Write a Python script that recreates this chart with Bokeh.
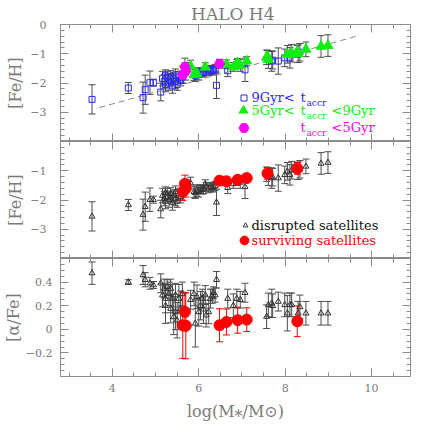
import numpy as np
from bokeh.plotting import figure
from bokeh.models import (ColumnDataSource, Whisker, TeeHead, Range1d, LinearAxis,
                          FixedTicker, Label, Legend, LegendItem, CustomLabelingPolicy)
from bokeh.layouts import column
from bokeh.embed import file_html
from bokeh.resources import INLINE

# ---------------- data ----------------
# disrupted satellites: log stellar mass, [Fe/H] (+err), [alpha/Fe] (+err), accretion-time class
d_logm = [3.53, 4.37, 4.71, 4.76, 4.87, 4.95, 5.12, 5.16, 5.20, 5.23, 5.27, 5.31, 5.35, 5.39,
          5.42, 5.46, 5.50, 5.54, 5.58, 5.23, 5.35, 5.46, 5.62, 5.89, 5.81, 5.92, 5.96, 6.00,
          6.04, 6.08, 6.11, 6.15, 6.17, 6.23, 6.27, 6.31, 6.34, 6.38, 6.41, 6.67, 6.80, 6.88,
          6.96, 7.07, 7.57, 7.61, 7.69, 7.71, 7.84, 7.99, 8.05, 8.11, 8.15, 8.30, 8.34, 8.48,
          8.83, 8.99]
d_feh = [-2.56, -2.17, -2.50, -2.23, -1.99, -1.99, -2.31, -1.85, -1.95, -2.05, -1.80, -2.00,
         -1.90, -2.10, -1.85, -1.95, -2.05, -1.80, -1.90, -1.75, -1.78, -1.72, -1.80, -1.72,
         -1.42, -1.75, -1.68, -1.70, -1.63, -1.65, -1.63, -1.46, -1.55, -1.60, -1.55, -1.58,
         -1.55, -1.52, -2.08, -1.58, -1.45, -1.35, -1.40, -1.55, -1.12, -1.20, -1.25, -1.22,
         -1.25, -1.14, -1.02, -1.14, -0.98, -1.00, -0.95, -0.85, -0.75, -0.72]
d_feh_err = [0.50, 0.19, 0.53, 0.50, 0.40, 0.12, 0.30, 0.25, 0.25, 0.25, 0.20, 0.25, 0.20, 0.25,
             0.20, 0.25, 0.20, 0.20, 0.20, 0.20, 0.20, 0.20, 0.20, 0.20, 0.20, 0.20, 0.20, 0.20,
             0.15, 0.15, 0.15, 0.15, 0.15, 0.15, 0.15, 0.15, 0.15, 0.15, 0.45, 0.20, 0.15, 0.15,
             0.20, 0.40, 0.25, 0.30, 0.35, 0.30, 0.45, 0.30, 0.30, 0.35, 0.30, 0.30, 0.30, 0.25,
             0.37, 0.37]
d_afe = [0.476, 0.40, 0.46, 0.42, 0.39, 0.375, 0.39, 0.29, 0.345, 0.26, 0.36, 0.30, 0.345, 0.26,
         0.105, 0.29, 0.077, 0.26, 0.175, 0.20, 0.175, 0.147, 0.30, 0.30, 0.25, 0.05, 0.275,
         0.147, 0.20, 0.26, 0.17, 0.29, 0.12, 0.147, 0.26, 0.28, 0.31, 0.29, 0.42, 0.26, 0.20,
         0.26, 0.25, 0.31, 0.107, 0.207, 0.22, 0.20, 0.235, 0.207, 0.136, 0.207, 0.207, 0.136,
         0.19, 0.136, 0.136, 0.136]
d_afe_err = [0.095, 0.02, 0.08, 0.06, 0.05, 0.03, 0.08, 0.10, 0.08, 0.12, 0.06, 0.10, 0.08, 0.12,
             0.15, 0.10, 0.15, 0.12, 0.15, 0.15, 0.12, 0.15, 0.10, 0.10, 0.08, 0.20, 0.10, 0.12,
             0.12, 0.08, 0.12, 0.08, 0.10, 0.10, 0.08, 0.06, 0.05, 0.06, 0.07, 0.08, 0.10, 0.08,
             0.07, 0.08, 0.10, 0.10, 0.12, 0.10, 0.08, 0.10, 0.15, 0.10, 0.10, 0.10, 0.10, 0.10,
             0.10, 0.10]
d_tacc = ["early"] * 23 + ["mid", "mid", "early", "mid", "early", "early", "early", "early",
          "mid", "early", "early", "early", "early", "early", "early", "early", "early", "mid",
          "mid", "mid", "early", "mid", "mid", "early", "early", "early", "early", "mid",
          "early", "mid", "mid", "early", "mid", "mid", "mid"]

# surviving satellites
s_logm = [5.63, 5.68, 5.70, 6.48, 6.64, 6.90, 7.11, 7.59, 8.28]
s_feh = [-1.72, -1.45, -1.60, -1.34, -1.36, -1.31, -1.25, -1.09, -0.92]
s_feh_err = [0.30, 0.30, 0.30, 0.15, 0.15, 0.15, 0.15, 0.20, 0.20]
s_afe = [0.034, 0.147, 0.030, 0.034, 0.062, 0.077, 0.082, np.nan, 0.068]
s_afe_err = [0.28, 0.16, 0.28, 0.14, 0.11, 0.11, 0.10, np.nan, 0.13]
s_tacc = ["late", "late", "late", "late", "mid", "mid", "mid", "mid", "mid"]

# mass-metallicity relation (dashed)
fit_logm = [3.7, 9.7]
fit_slope = 0.41
fit_intercept = -4.357

x_ticks = [4, 6, 8, 10]
x_ticklabels = ["4", "6", "8", "10"]
feh_ticks_top = [0, -1, -2, -3]
feh_ticks_mid = [-1, -2, -3]
afe_ticks = [-0.2, 0, 0.2, 0.4]

# ---------------- style ----------------
FONT = "DejaVu Serif"
AXC = "#8c8c8c"
TXC = "#7a7a7a"
ERRC = "#4d4d4d"
BLUE = "#2a2aff"
GREEN = "#10ee10"
MAG = "#ff00ff"
RED = "#ff0000"
FW = 350


def label_text(v):
    s = ("%g" % v)
    return s.replace("-", "\u2212")


def style_axis(ax, labels, tick_labels=None, standoff=8, label=None, lab_standoff=4):
    ax.axis_line_color = AXC
    ax.major_tick_line_color = AXC
    ax.minor_tick_line_color = AXC
    ax.major_tick_in = 8
    ax.major_tick_out = 0
    ax.minor_tick_in = 4
    ax.minor_tick_out = 0
    if labels:
        ax.major_label_text_font = FONT
        ax.major_label_text_font_size = "11px"
        ax.major_label_text_color = TXC
        ax.major_label_standoff = standoff
        if tick_labels is not None:
            ax.major_label_overrides = tick_labels
    else:
        ax.major_label_policy = CustomLabelingPolicy(code="return []")
        ax.major_label_text_font_size = "0px"
        ax.major_label_standoff = 0
    if label is not None:
        ax.axis_label = label
        ax.axis_label_text_font = FONT
        ax.axis_label_text_font_style = "normal"
        ax.axis_label_text_font_size = "16px"
        ax.axis_label_text_color = TXC
        ax.axis_label_standoff = lab_standoff


def make_panel(yr, yticks, yminor, fh, top, bottom, ylabel, ystand, ylabstand, xlabel=None):
    p = figure(x_range=Range1d(2.8, 10.9), y_range=Range1d(*yr), frame_width=FW, frame_height=fh,
               output_backend="svg", toolbar_location=None,
               x_axis_location=None, y_axis_location=None,
               min_border=0, min_border_left=54, min_border_right=16,
               min_border_top=top, min_border_bottom=bottom)
    p.xgrid.visible = False
    p.ygrid.visible = False
    p.outline_line_color = AXC
    p.background_fill_color = "white"
    p.border_fill_color = "white"
    xmin = list(np.arange(3.0, 11.0, 0.5))
    for side in ["below", "above"]:
        ax = LinearAxis(ticker=FixedTicker(ticks=x_ticks, minor_ticks=xmin))
        if side == "below" and xlabel is not None:
            style_axis(ax, True, dict(zip(x_ticks, x_ticklabels)), 7, xlabel, 7)
        else:
            style_axis(ax, False)
        p.add_layout(ax, side)
    for side in ["left", "right"]:
        ax = LinearAxis(ticker=FixedTicker(ticks=yticks, minor_ticks=yminor))
        if side == "left":
            style_axis(ax, True, {t: label_text(t) for t in yticks}, ystand, ylabel, ylabstand)
        else:
            style_axis(ax, False)
        p.add_layout(ax, side)
    return p


def whisk(p, x, y, e, color):
    x = np.asarray(x, float); y = np.asarray(y, float); e = np.asarray(e, float)
    src = ColumnDataSource(dict(base=x, upper=y + e, lower=y - e))
    w = Whisker(base="base", upper="upper", lower="lower", source=src, dimension="height",
                line_color=color, line_width=1,
                upper_head=TeeHead(size=7, line_color=color, line_width=1),
                lower_head=TeeHead(size=7, line_color=color, line_width=1))
    p.add_layout(w)


def add_label(p, x, y, text, color, size="13px", align="left"):
    p.add_layout(Label(x=x, y=y, x_units="screen", y_units="screen", text=text,
                       text_color=color, text_font=FONT, text_font_size=size,
                       text_align=align, text_baseline="middle"))


def key(p, r, cx, cy, msize):
    g = msize / 0.4
    lg = Legend(items=[LegendItem(label=" ", renderers=[r])], location=(cx - g / 2, cy - g / 2),
                glyph_width=int(round(g)), glyph_height=int(round(g)), padding=0, spacing=0,
                margin=0, label_standoff=0, label_text_font_size="1px",
                background_fill_alpha=0, border_line_alpha=0)
    p.add_layout(lg)


feh_minor = list(np.arange(-4.0, 0.01, 0.2))
afe_minor = list(np.arange(-0.4, 0.61, 0.05))

# ---------------- top panel ----------------
p1 = make_panel((-4, 0), feh_ticks_top, feh_minor, 117, 24, 0, "[Fe/H]", 14, 2)
p1.title.text = "HALO  H4"
p1.title.align = "center"
p1.title.text_font = FONT
p1.title.text_font_size = "17px"
p1.title.text_font_style = "normal"
p1.title.text_color = TXC
p1.title.standoff = 2
p1.title.offset = 4

all_logm = d_logm + s_logm
all_feh = d_feh + s_feh
all_err = d_feh_err + s_feh_err
all_tacc = d_tacc + s_tacc
whisk(p1, all_logm, all_feh, all_err, ERRC)
fx = np.array(fit_logm)
p1.line(fx, fit_intercept + fit_slope * fx, line_color="#8a8a8a", line_width=1, line_dash="6 4")

grp = {}
for g in ["early", "mid", "late"]:
    idx = [i for i, t in enumerate(all_tacc) if t == g]
    grp[g] = ColumnDataSource(dict(x=[all_logm[i] for i in idx], y=[all_feh[i] for i in idx]))
r_early = p1.scatter("x", "y", source=grp["early"], marker="square", size=6,
                     fill_alpha=0, line_color=BLUE, line_width=1)
r_mid = p1.scatter("x", "y", source=grp["mid"], marker="triangle", size=10,
                   fill_color=GREEN, line_color=GREEN)
r_late = p1.scatter("x", "y", source=grp["late"], marker="hex", size=10,
                    fill_color=MAG, line_color=MAG)

key(p1, r_early, 183, 44, 6)
key(p1, r_mid, 183, 31, 9)
key(p1, r_late, 183, 14, 10)
add_label(p1, 191, 44, "9Gyr<", BLUE)
add_label(p1, 191, 31, "5Gyr<", GREEN)
for (yy, col) in [(44, BLUE), (31, GREEN), (14, MAG)]:
    add_label(p1, 240, yy, "t", col)
    add_label(p1, 246, yy - 5, "accr", col, size="9px")
add_label(p1, 271, 31, "<9Gyr", GREEN)
add_label(p1, 271, 14, "<5Gyr", MAG)

# ---------------- middle panel ----------------
p2 = make_panel((-4, 0), feh_ticks_mid, feh_minor, 117, 0, 0, "[Fe/H]", 14, 2)
whisk(p2, d_logm, d_feh, d_feh_err, ERRC)
whisk(p2, s_logm, s_feh, s_feh_err, RED)
r_dis = p2.scatter(d_logm, d_feh, marker="triangle", size=6, fill_alpha=0,
                   line_color="#333333", line_width=1)
r_sur = p2.scatter(s_logm, s_feh, marker="circle", size=11, fill_color=RED, line_color=RED)
key(p2, r_dis, 185, 33, 5)
key(p2, r_sur, 184, 18, 9)
add_label(p2, 191, 33, "disrupted satellites", "#111111")
add_label(p2, 191, 18, "surviving satellites", RED)

# ---------------- bottom panel ----------------
p3 = make_panel((-0.4, 0.6), afe_ticks, afe_minor, 118, 0, 50, "[\u03b1/Fe]", 8, 0,
                xlabel="log(M\u204e/M\u2299)")
whisk(p3, d_logm, d_afe, d_afe_err, ERRC)
whisk(p3, s_logm, s_afe, s_afe_err, RED)
p3.scatter(d_logm, d_afe, marker="triangle", size=6, fill_alpha=0,
           line_color="#333333", line_width=1)
p3.scatter(s_logm, s_afe, marker="circle", size=11, fill_color=RED, line_color=RED)

layout = column(p1, p2, p3, spacing=0)
open("out.html", "w").write(file_html(layout, INLINE))
